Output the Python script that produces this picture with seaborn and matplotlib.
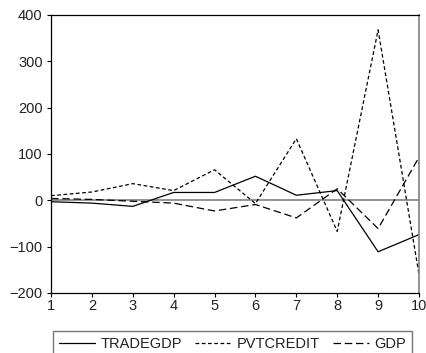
import pandas as pd
import seaborn as sns
import matplotlib.pyplot as plt
import numpy as np

# Data
periods = [1, 2, 3, 4, 5, 6, 7, 8, 9, 10]
tradegdp = [-3, -6, -13, 17, 17, 52, 11, 21, -111, -74]
pvtcredit = [10, 18, 36, 21, 66, -7, 133, -67, 368, -160]
gdp = [4, 2, -2, -6, -23, -9, -38, 25, -61, 93]

df = pd.DataFrame({'period': periods, 'TRADEGDP': tradegdp,
                   'PVTCREDIT': pvtcredit, 'GDP': gdp})
df_long = df.melt(id_vars='period', var_name='series', value_name='value')

sns.set_style('white')
plt.rcParams['font.family'] = ['Liberation Sans', 'DejaVu Sans']

fig = plt.figure(figsize=(4.27, 3.53), dpi=100)
ax = fig.add_axes([51 / 427, 1 - 293 / 353, 368 / 427, 278 / 353])

# horizontal zero line
ax.axhline(0, color='#808080', lw=1.2, zorder=1)

styles = {'TRADEGDP': (None, None), 'PVTCREDIT': (3, 2), 'GDP': (6, 3)}
sns.lineplot(data=df_long, x='period', y='value', style='series',
             dashes=styles, color='black', lw=0.9, ax=ax, legend=False)

ax.set_xlim(1, 10)
ax.set_ylim(-200, 400)
ax.set_xticks(periods)
ax.set_yticks([-200, -100, 0, 100, 200, 300, 400])
ax.set_xlabel('')
ax.set_ylabel('')
ax.tick_params(axis='both', direction='out', length=3, width=0.8,
               labelsize=10.5, labelcolor='#222222', color='black',
               left=True, bottom=True, pad=3)
ax.tick_params(axis='x', pad=1)
for name, sp in ax.spines.items():
    sp.set_color('black')
    sp.set_linewidth(0.9)
ax.spines['right'].set_color('#808080')
ax.spines['right'].set_linewidth(1.2)

# legend box under the plot (its bottom edge runs off the figure, as in the reference)
handles = [plt.Line2D([], [], color='black', lw=0.9, linestyle='-'),
           plt.Line2D([], [], color='black', lw=0.9, dashes=(3, 2)),
           plt.Line2D([], [], color='black', lw=0.9, dashes=(6, 3))]
leg = fig.legend(handles, ['TRADEGDP', 'PVTCREDIT', 'GDP'], ncol=3,
                 loc='upper left', bbox_to_anchor=(53 / 427, 1 - 331 / 353),
                 frameon=True, fancybox=False, fontsize=10.5,
                 handlelength=2.5, handletextpad=0.35, columnspacing=0.9,
                 borderpad=0.4, borderaxespad=0, labelcolor='#222222')
leg.get_frame().set_edgecolor('#555555')
leg.get_frame().set_linewidth(1.0)

fig.savefig('out.png', dpi=100)
